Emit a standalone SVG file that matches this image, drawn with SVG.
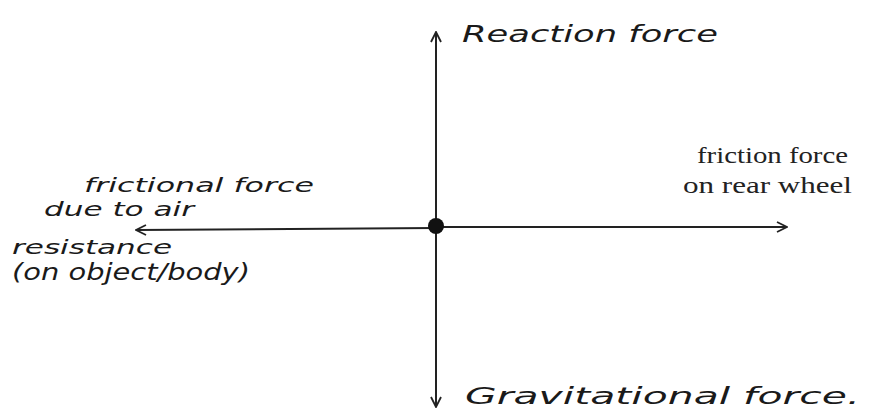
<svg xmlns="http://www.w3.org/2000/svg" width="874" height="412" viewBox="0 0 874 412">
<style>
.ax{stroke:#222;stroke-width:2;fill:none}
.hw{font-family:"DejaVu Sans",sans-serif;font-style:italic;fill:#1a1a1a;font-size:23px}
.sm{font-size:20px}
.pr{font-family:"Liberation Serif",serif;fill:#222;font-size:24px}
</style>
<defs>
<marker id="ah" viewBox="0 0 12 12" refX="11" refY="6" markerWidth="12" markerHeight="12" markerUnits="userSpaceOnUse" orient="auto">
<path d="M1,1 L11,6 L1,11" fill="none" stroke="#222" stroke-width="1.8"/>
</marker>
</defs>
<rect width="874" height="412" fill="#fff"/>
<g id="connectors">
<line class="ax" x1="436" y1="226" x2="436" y2="32" marker-end="url(#ah)"/>
<line class="ax" x1="436" y1="226" x2="436" y2="407" marker-end="url(#ah)"/>
<line class="ax" x1="436" y1="227" x2="787" y2="227" marker-end="url(#ah)"/>
<line class="ax" x1="436" y1="228" x2="136" y2="230" marker-end="url(#ah)"/>
</g>
<g id="body"><circle cx="436" cy="226" r="8" fill="#111"/></g>
<g id="reaction"><text class="hw" x="462" y="42" textLength="256" lengthAdjust="spacingAndGlyphs">Reaction force</text></g>
<g id="gravity"><text class="hw" x="465" y="404" textLength="395" lengthAdjust="spacingAndGlyphs">Gravitational force.</text></g>
<g id="friction">
<text class="pr" x="697" y="163" textLength="151" lengthAdjust="spacingAndGlyphs">friction force</text>
<text class="pr" x="683" y="193" textLength="169" lengthAdjust="spacingAndGlyphs">on rear wheel</text>
</g>
<g id="air">
<text class="hw sm" x="84" y="192" textLength="230" lengthAdjust="spacingAndGlyphs">frictional force</text>
<text class="hw sm" x="44" y="216" textLength="150" lengthAdjust="spacingAndGlyphs">due to air</text>
<text class="hw sm" x="12" y="254" textLength="160" lengthAdjust="spacingAndGlyphs">resistance</text>
<text class="hw" x="12" y="280" font-size="18" textLength="238" lengthAdjust="spacingAndGlyphs">(on object/body)</text>
</g>
</svg>
